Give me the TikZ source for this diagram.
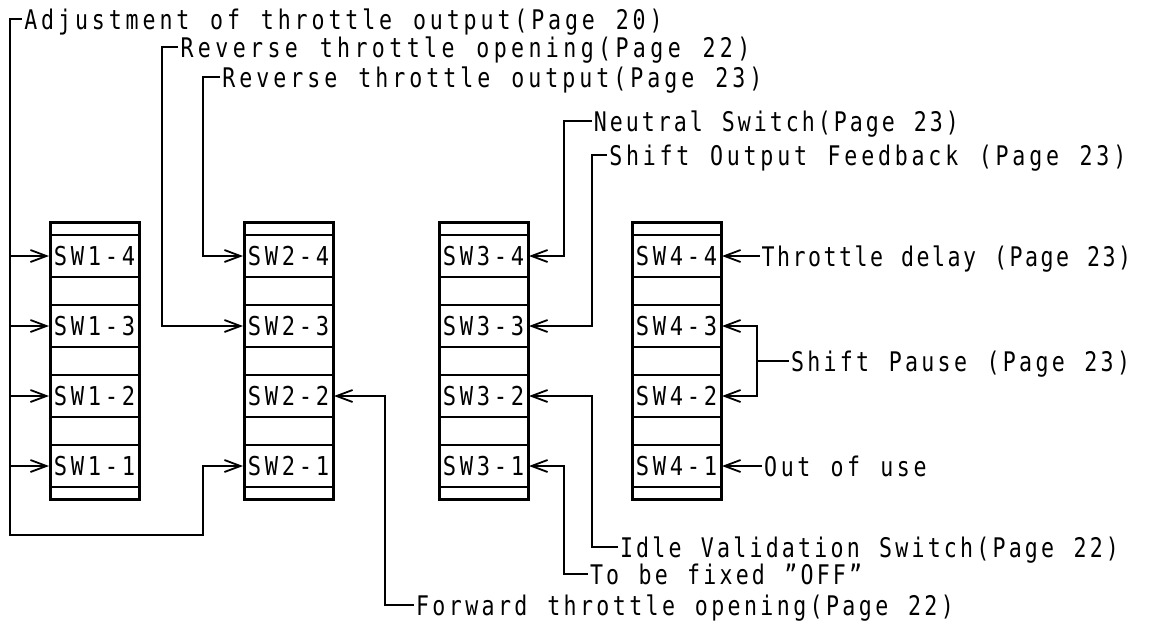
\documentclass[tikz,border=0pt]{standalone}
\usepackage{fontspec}
\usetikzlibrary{arrows.meta}
\newfontfamily\labf[FakeStretch=0.8]{DejaVu Sans Mono}
\newfontfamily\swf[FakeStretch=0.85]{DejaVu Sans Mono}
\newlength\chw
\makeatletter
\def\lsp#1#2{\setlength\chw{#1}\lsp@loop#2\relax}
\def\lsp@loop#1{\ifx\relax#1\else\makebox[\chw]{#1}\expandafter\lsp@loop\fi}
\makeatother
\begin{document}
\begin{tikzpicture}[x=0.5pt,y=-0.5pt,
  lab/.style={font=\labf\fontsize{13.5pt}{14pt}\selectfont, inner sep=0pt, text height=10pt, text depth=0pt, anchor=west},
  swcell/.style={draw, line width=1pt, minimum width=44.5pt, minimum height=21pt, inner sep=0pt, font=\swf\fontsize{13pt}{14pt}\selectfont, text height=9.5pt, text depth=0pt},
  swblock/.style={draw, line width=1.5pt, minimum width=44.5pt, minimum height=138.5pt, inner sep=0pt},
  wire/.style={line width=0.9pt},
  arr/.style={wire, -{Straight Barb[length=8pt,width=6pt]}}]
\useasboundingbox (0,0) rectangle (1161,632);
\foreach \i/\x in {1/94.5,2/288.5,3/483.5,4/676.5}{
  \foreach \j/\y in {4/256,3/326,2/396,1/466}{
    \node[swcell] (sw\i\j) at (\x,\y) {\lsp{8.5pt}{SW\i-\j}};
  }
  \node[swblock] (b\i) at (\x,360.5) {};
}
% labels
\node[lab] (adj) at (22,19) {\lsp{8.45pt}{Adjustment~of~throttle~output(Page~20)}};
\node[lab] (rop) at (178,47) {\lsp{8.7pt}{Reverse~throttle~opening(Page~22)}};
\node[lab] (rout) at (220,77) {\lsp{8.5pt}{Reverse~throttle~output(Page~23)}};
\node[lab] (neu) at (592,121) {\lsp{8.0pt}{Neutral~Switch(Page~23)}};
\node[lab] (fb) at (607,155) {\lsp{8.4pt}{Shift~Output~Feedback~(Page~23)}};
\node[lab] (td) at (760,256) {\lsp{7.75pt}{Throttle~delay~(Page~23)}};
\node[lab] (sp) at (789,361) {\lsp{8.15pt}{Shift~Pause~(Page~23)}};
\node[lab] (ou) at (762,466) {\lsp{8.3pt}{Out~of~use}};
\node[lab] (idle) at (618,547) {\lsp{8.1pt}{Idle~Validation~Switch(Page~22)}};
\node[lab] (tbf) at (588,574) {\lsp{8.1pt}{To~be~fixed~”OFF”}};
\node[lab] (fw) at (414,605) {\lsp{8.2pt}{Forward~throttle~opening(Page~22)}};
% coordinates
\coordinate (L) at (10,0);
\coordinate (adjc) at (10,19);
\coordinate (adjb) at (10,535);
\coordinate (adjr) at (203,535);
\coordinate (ropc) at (162,47);
\coordinate (routc) at (203,77);
\coordinate (neuc) at (564,121);
\coordinate (fbc) at (592,155);
\coordinate (spc) at (757,361);
\coordinate (idlec) at (592,547);
\coordinate (tbfc) at (564,574);
\coordinate (fwc) at (385,605);
% connectors
\draw[arr] (adj.west) -- (adjc) -- (adjb) -- (adjr) |- (sw21.west);
\foreach \j in {4,3,2,1}{\draw[arr] (sw1\j.west -| L) -- (sw1\j.west);}
\draw[arr] (rop.west) -- (ropc) |- (sw23.west);
\draw[arr] (rout.west) -- (routc) |- (sw24.west);
\draw[arr] (neu.west) -- (neuc) |- (sw34.east);
\draw[arr] (fb.west) -- (fbc) |- (sw33.east);
\draw[arr] (idle.west) -- (idlec) |- (sw32.east);
\draw[arr] (tbf.west) -- (tbfc) |- (sw31.east);
\draw[arr] (fw.west) -- (fwc) |- (sw22.east);
\draw[arr] (td.west) -- (sw44.east);
\draw[arr] (ou.west) -- (sw41.east);
\draw[arr] (sp.west) -- (spc) |- (sw43.east);
\draw[arr] (spc) |- (sw42.east);
\end{tikzpicture}
\end{document}
